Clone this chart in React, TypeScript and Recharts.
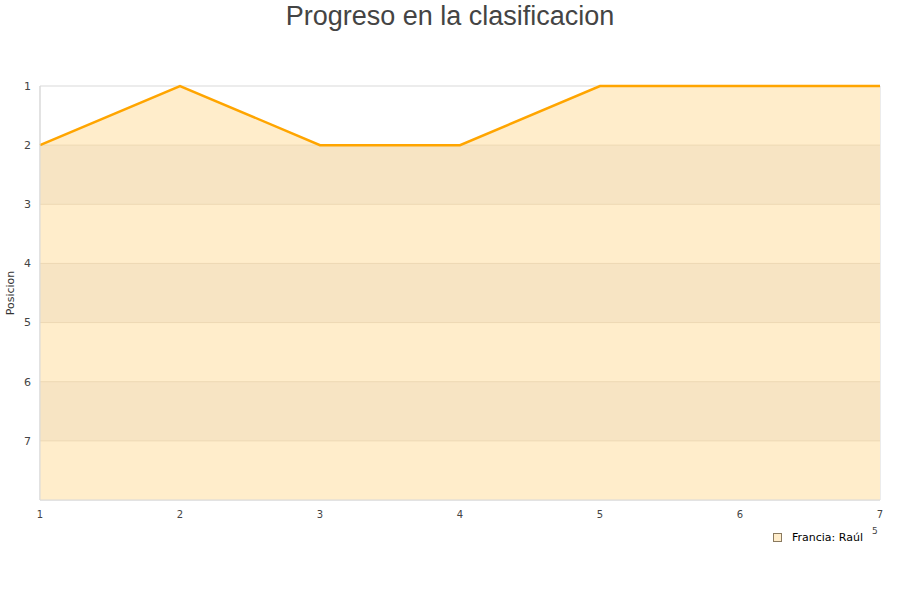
import React from 'react';
import { ComposedChart, Area, Line, XAxis, YAxis, ReferenceArea, ReferenceLine } from 'recharts';

const jornadas = [1, 2, 3, 4, 5, 6, 7];
const posiciones = [2, 1, 2, 2, 1, 1, 1];
const yTicks = [1, 2, 3, 4, 5, 6, 7];
const bands = [[2, 3], [4, 5], [6, 7]];
const gridLevels = [2, 3, 4, 5, 6, 7];
const seriesName = 'Francia: Raúl';

const data = jornadas.map((j, i) => ({ j, pos: posiciones[i] }));

const yTickStyle = { fontFamily: 'DejaVu Sans', fontSize: 11, fill: '#444' };
const xTickStyle = { fontFamily: 'DejaVu Sans', fontSize: 10, fill: '#444' };

export default function App() {
  return (
    <div style={{ position: 'absolute', left: 0, top: 0, width: 900, height: 600, background: '#fff' }}>
      <div style={{ position: 'absolute', left: 0, top: 0, width: 900, textAlign: 'center', fontFamily: 'Liberation Sans', fontSize: 27, color: '#444', lineHeight: '32px' }}>
        Progreso en la clasificacion
      </div>
      <div style={{ position: 'absolute', left: 3, top: 293, transform: 'translate(0,-50%) rotate(-90deg)', transformOrigin: 'center', fontFamily: 'DejaVu Sans', fontSize: 11, color: '#333', width: 14, height: 14, display: 'flex', alignItems: 'center', justifyContent: 'center', whiteSpace: 'nowrap' }}>
        Posicion
      </div>
      <div style={{ position: 'absolute', left: 872, top: 526, fontFamily: 'DejaVu Sans', fontSize: 9, color: '#444' }}>5</div>
      <div style={{ position: 'absolute', left: 773, top: 531, display: 'flex', alignItems: 'center', fontFamily: 'DejaVu Sans', fontSize: 11, color: '#000' }}>
        <span style={{ display: 'inline-block', width: 7, height: 7, background: '#FFEDCB', border: '1px solid #8a7a60', marginRight: 10 }} />
        <span>{seriesName}</span>
      </div>
      <ComposedChart width={900} height={600} data={data} margin={{ top: 86, right: 20, bottom: 70, left: 10 }} style={{ position: 'absolute', left: 0, top: 0 }}>
        <XAxis dataKey="j" type="number" domain={[1, 7]} ticks={jornadas} tickLine={false} axisLine={{ stroke: '#d9d9d9' }} tick={xTickStyle} tickMargin={5} height={30} interval={0} />
        <YAxis type="number" domain={[1, 8]} reversed ticks={yTicks} tickLine={false} axisLine={{ stroke: '#d9d9d9' }} tick={yTickStyle} tickMargin={3} width={30} interval={0} />
        <ReferenceArea x1={1} x2={7} y1={1} y2={8} fill="none" stroke="#d9d9d9" ifOverflow="extendDomain" />
        <Area type="linear" dataKey="pos" baseValue={8} fill="#FFEDCB" fillOpacity={1} stroke="none" isAnimationActive={false} legendType="none" />
        {bands.map(([a, b]) => (
          <ReferenceArea key={a} x1={1} x2={7} y1={a} y2={b} fill="#F7E4C3" fillOpacity={1} stroke="none" />
        ))}
        {gridLevels.map((g) => (
          <ReferenceLine key={g} y={g} stroke="#EDD8B4" strokeWidth={1} />
        ))}
        <Line type="linear" dataKey="pos" stroke="#FFA500" strokeWidth={2.5} dot={false} isAnimationActive={false} name={seriesName} />
      </ComposedChart>
    </div>
  );
}
